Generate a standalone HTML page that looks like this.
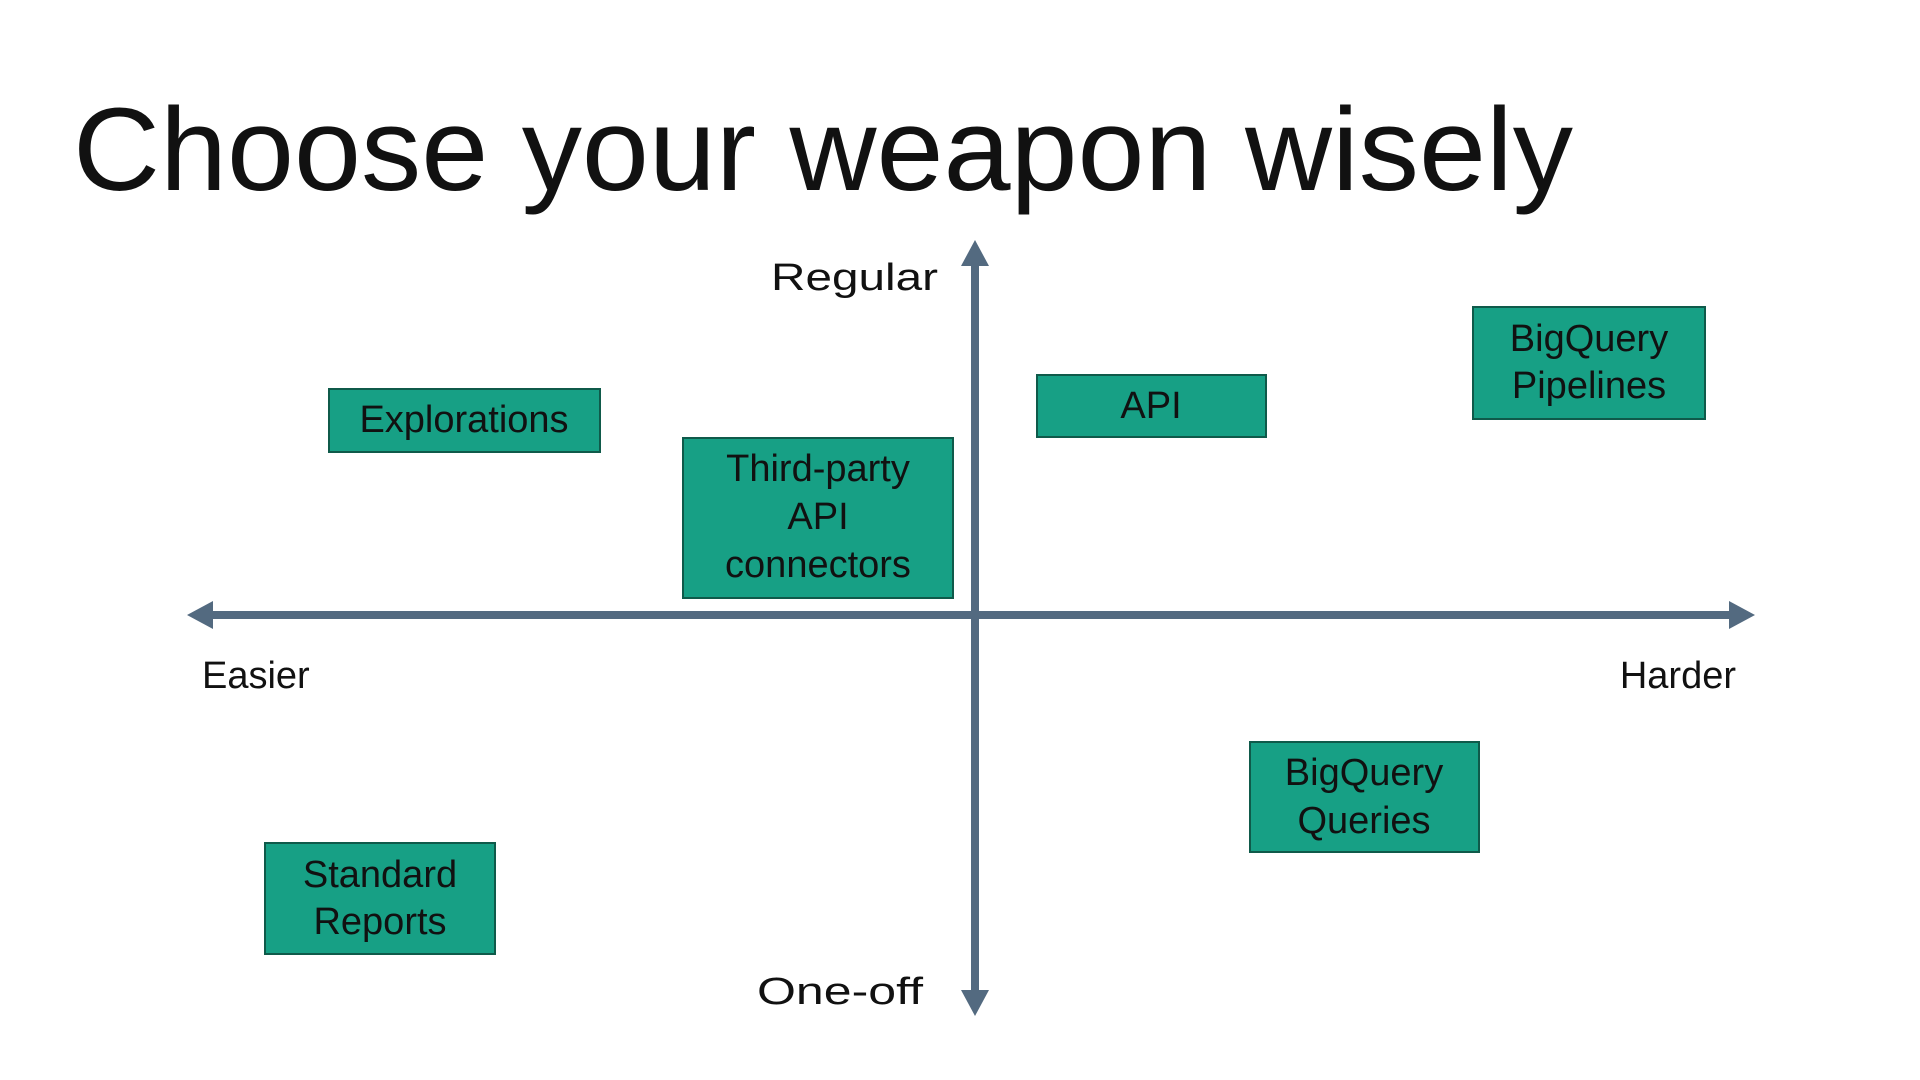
<!DOCTYPE html>
<html><head><meta charset="utf-8"><style>html,body{margin:0;padding:0;background:#fff}svg{display:block}</style></head>
<body>
<svg width="1920" height="1080" viewBox="0 0 1920 1080" xmlns="http://www.w3.org/2000/svg" font-family="Liberation Sans, sans-serif">
<rect width="1920" height="1080" fill="#fff"/>
<text x="73" y="190" font-size="118" fill="#111" textLength="1500" lengthAdjust="spacingAndGlyphs">Choose your weapon wisely</text>
<g fill="#536a80" stroke="none">
<rect x="971" y="260" width="8" height="736"/>
<polygon points="975,240 961,266 989,266"/>
<polygon points="975,1016 961,990 989,990"/>
<rect x="205" y="611" width="1532" height="8"/>
<polygon points="187,615 213,601 213,629"/>
<polygon points="1755,615 1729,601 1729,629"/>
</g>
<g fill="#17a085" stroke="#0f5a4a" stroke-width="2">
<rect x="329" y="389" width="271" height="63"/>
<rect x="683" y="438" width="270" height="160"/>
<rect x="1037" y="375" width="229" height="62"/>
<rect x="1473" y="307" width="232" height="112"/>
<rect x="1250" y="742" width="229" height="110"/>
<rect x="265" y="843" width="230" height="111"/>
</g>
<g font-size="38" fill="#111" text-anchor="middle">
<text x="464" y="432">Explorations</text>
<text x="818" y="481">Third-party</text>
<text x="818" y="529">API</text>
<text x="818" y="577">connectors</text>
<text x="1151" y="418">API</text>
<text x="1589" y="351">BigQuery</text>
<text x="1589" y="398">Pipelines</text>
<text x="1364" y="785">BigQuery</text>
<text x="1364" y="833">Queries</text>
<text x="380" y="887">Standard</text>
<text x="380" y="934">Reports</text>
</g>
<g font-size="38" fill="#111">
<text x="771" y="290" textLength="167" lengthAdjust="spacingAndGlyphs">Regular</text>
<text x="202" y="688">Easier</text>
<text x="1736" y="688" text-anchor="end">Harder</text>
<text x="757" y="1004" textLength="166" lengthAdjust="spacingAndGlyphs">One-off</text>
</g>
</svg>
</body></html>
